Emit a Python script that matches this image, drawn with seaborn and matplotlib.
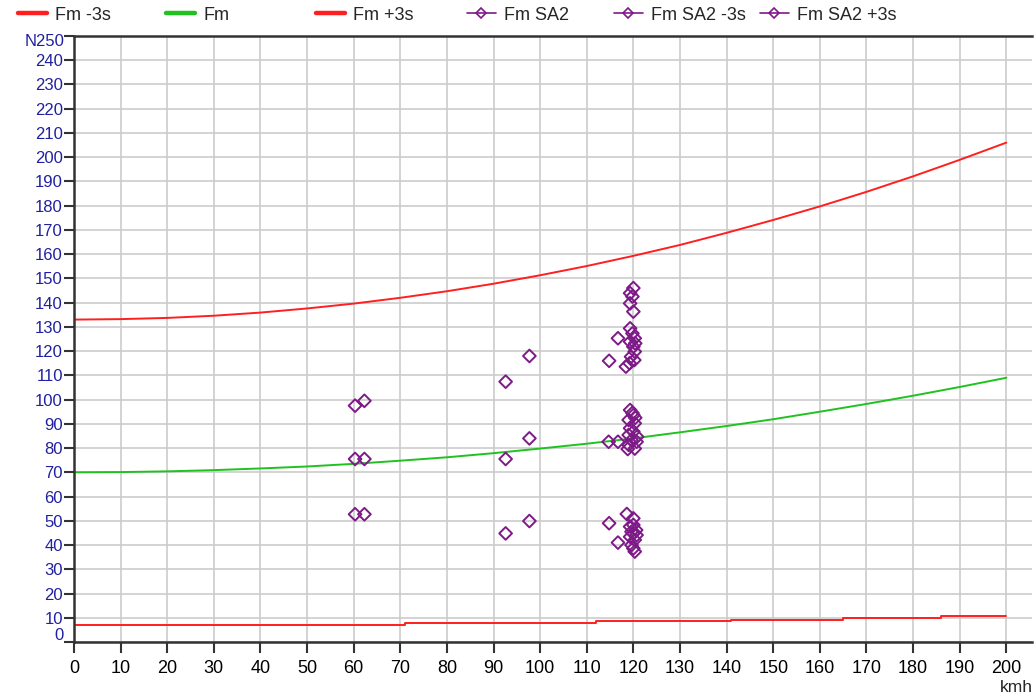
import matplotlib
matplotlib.use("Agg")
import matplotlib.pyplot as plt
from matplotlib.lines import Line2D
from matplotlib.ticker import MultipleLocator, FuncFormatter
import seaborn as sns

# --- Curves ---
speed = [0, 10, 20, 30, 40, 50, 60, 70, 80, 90, 100,
         110, 120, 130, 140, 150, 160, 170, 180, 190, 200]
fm_plus3s = [133.0, 133.2, 133.7, 134.6, 135.9, 137.6, 139.6, 142.0, 144.7, 147.8, 151.3,
             155.1, 159.3, 163.8, 168.8, 174.1, 179.7, 185.7, 192.1, 198.9, 206.0]
fm = [70.0, 70.1, 70.4, 70.9, 71.6, 72.4, 73.5, 74.8, 76.2, 77.9, 79.8,
      81.8, 84.0, 86.5, 89.1, 91.9, 95.0, 98.2, 101.6, 105.2, 109.0]
step_speed = [0, 71, 112, 141, 165, 186, 200]
fm_minus3s = [7.1, 7.8, 8.5, 9.2, 9.9, 10.6, 10.6]

# --- Measured points ---
sa2_kmh = [60.3, 62.3, 92.6, 97.7, 114.7, 116.7, 119.3, 120.0, 119.0, 120.3, 119.3,
           120.0, 119.0, 120.8, 119.6, 120.7, 119.0, 118.8, 120.3, 119.8, 120.4]
sa2_n = [75.5, 75.5, 75.5, 84.0, 82.6, 82.6, 95.7, 93.6, 91.6, 90.2, 88.2,
         86.8, 85.4, 84.7, 83.3, 82.6, 81.3, 79.6, 79.8, 94.5, 92.5]

sa2_minus_kmh = [60.3, 62.3, 92.6, 97.7, 114.8, 118.6, 120.0, 119.3, 120.0, 120.6,
                 119.6, 120.0, 120.7, 119.3, 120.3, 116.7, 119.6, 120.0, 120.3]
sa2_minus_n = [52.7, 52.7, 44.8, 49.9, 49.0, 52.8, 51.0, 47.6, 48.3, 46.2,
               45.5, 44.8, 44.1, 43.4, 42.1, 41.0, 40.0, 38.6, 37.3]

sa2_plus_kmh = [60.3, 62.3, 92.6, 97.7, 120.0, 119.3, 119.8, 119.3, 120.0, 116.7, 119.3,
                119.8, 120.3, 119.3, 120.4, 120.0, 120.3, 119.5, 120.2, 119.2, 118.4, 114.8]
sa2_plus_n = [97.5, 99.5, 107.4, 118.0, 146.0, 143.9, 142.5, 139.7, 136.3, 125.3, 129.4,
              127.3, 125.3, 123.9, 123.2, 121.8, 119.8, 117.7, 116.3, 115.0, 113.6, 116.0]

RED = "#ff1f1f"
GREEN = "#1fc21f"
PURPLE = "#7d1a87"
BLUE = "#2020a0"

sns.set_style("white")
plt.rcParams["font.family"] = ["Liberation Sans", "DejaVu Sans"]

fig = plt.figure(figsize=(10.35, 6.96), dpi=100)
ax = fig.add_axes([74 / 1035, 1 - 642 / 696, 1 - 74 / 1035 - 0.003, 606 / 696])

sns.lineplot(x=speed, y=fm_plus3s, color=RED, linewidth=1.4, ax=ax)
sns.lineplot(x=speed, y=fm, color=GREEN, linewidth=1.4, ax=ax)
sns.lineplot(x=step_speed, y=fm_minus3s, color=RED, linewidth=1.4,
             drawstyle="steps-post", ax=ax)

for xs, ys in [(sa2_kmh, sa2_n), (sa2_minus_kmh, sa2_minus_n), (sa2_plus_kmh, sa2_plus_n)]:
    sns.scatterplot(x=xs, y=ys, marker="D", s=42, ax=ax, legend=False, zorder=3)
    coll = ax.collections[-1]
    coll.set_facecolor("none")
    coll.set_edgecolor(PURPLE)
    coll.set_linewidth(1.4)

ax.set_xlim(0, 205.5)
ax.set_ylim(0, 250)
ax.xaxis.set_major_locator(MultipleLocator(10))
ax.yaxis.set_major_locator(MultipleLocator(10))
ax.xaxis.set_major_formatter(FuncFormatter(lambda v, p: "" if v > 200 else f"{v:.0f}"))
ax.yaxis.set_major_formatter(FuncFormatter(lambda v, p: "" if v in (0, 250) else f"{v:.0f}"))
ax.grid(True, color="#cccccc", linewidth=1.2)
ax.set_axisbelow(True)

ax.tick_params(axis="y", direction="out", length=7, width=1.5, color="#333333",
               labelcolor=BLUE, labelsize=12, pad=1, left=True)
ax.tick_params(axis="x", direction="out", length=8, width=1.5, color="#333333",
               labelcolor="black", labelsize=13, pad=5, bottom=True)
for side in ["left", "bottom", "top"]:
    ax.spines[side].set_color("#333333")
    ax.spines[side].set_linewidth(1.8)
ax.spines["right"].set_visible(False)

# end labels shifted inward like the original
ax.annotate("N250", xy=(0, 250), xycoords=("axes fraction", "data"), xytext=(-10, -6),
            textcoords="offset pixels", ha="right", va="center", color=BLUE, fontsize=12)
ax.annotate("0", xy=(0, 0), xycoords=("axes fraction", "data"), xytext=(-10, 7),
            textcoords="offset pixels", ha="right", va="center", color=BLUE, fontsize=12)
fig.text(1033 / 1035, 1 - 688 / 696, "kmh", ha="right", va="center", fontsize=12.5)

# --- Legend across the top ---
entries = [
    ("Fm -3s", Line2D([], [], color=RED, linewidth=3.2)),
    ("Fm", Line2D([], [], color=GREEN, linewidth=3.2)),
    ("Fm +3s", Line2D([], [], color=RED, linewidth=3.2)),
    ("Fm SA2", Line2D([], [], color=PURPLE, linewidth=1.2, marker="D", markersize=5,
                      markerfacecolor="none", markeredgewidth=1.2)),
    ("Fm SA2 -3s", Line2D([], [], color=PURPLE, linewidth=1.2, marker="D", markersize=5,
                          markerfacecolor="none", markeredgewidth=1.2)),
    ("Fm SA2 +3s", Line2D([], [], color=PURPLE, linewidth=1.2, marker="D", markersize=5,
                          markerfacecolor="none", markeredgewidth=1.2)),
]
legend_x = [18, 166, 316, 467, 614, 760]
for (label, handle), px in zip(entries, legend_x):
    fig.legend(handles=[handle], labels=[label], loc="center left",
               bbox_to_anchor=(px / 1035, 1 - 15 / 696), frameon=False,
               borderpad=0, borderaxespad=0, handlelength=1.6, handletextpad=0.45,
               fontsize=13)

plt.savefig("out.png", dpi=100)
plt.close()
